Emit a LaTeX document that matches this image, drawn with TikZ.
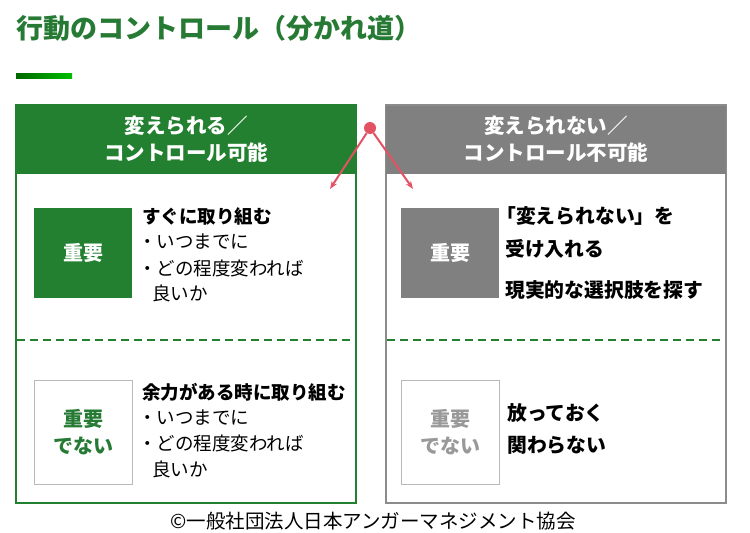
\documentclass[tikz,border=0pt]{standalone}
\usepackage{fontspec}
\setmainfont{Noto Sans CJK JP}
\usepackage{xcolor}
\usetikzlibrary{arrows.meta,positioning,shapes}
\definecolor{hgreen}{RGB}{35,128,48}
\definecolor{tgreen}{RGB}{38,122,52}
\definecolor{hgray}{RGB}{128,128,128}
\definecolor{fgray}{RGB}{140,140,140}
\definecolor{pinkred}{RGB}{226,82,98}

\begin{document}
\begin{tikzpicture}[x = 1pt, y = -1pt,
  frame/.style = {draw, line width=2pt, minimum width=340pt, minimum height=398pt, inner sep=0},
  head/.style = {minimum width=340pt, minimum height=68pt, inner sep=0, text=white, align=center, font=\fontsize{20.5}{27}\selectfont\bfseries},
  tag/.style = {minimum width=98pt, inner sep=0, align=center, font=\fontsize{20}{27}\selectfont\bfseries},
  line/.style = {anchor=west, inner sep=0, font=\fontsize{18.5}{22}\selectfont},
  bline/.style = {line, font=\fontsize{18.5}{22}\selectfont\bfseries},
  rline/.style = {line, font=\fontsize{19.8}{22}\selectfont\bfseries},
  divider/.style = {hgreen, line width=1.6pt, dash pattern=on 8pt off 5pt},
  fork/.style = {->, >={Stealth[length=8pt, width=6pt]}, pinkred, line width=2pt}]
\useasboundingbox (0,0) rectangle (750,533);

\node[anchor=west, inner sep=0, text=tgreen, font=\fontsize{27}{30}\selectfont\bfseries] (title) at (16,28) {行動のコントロール（分かれ道）};
\shade[left color=green!40!black, right color=green!75!black] (16,73) rectangle (72,78);

\node[frame, draw=hgreen] (lbox) at (186,304) {};
\node[frame, draw=fgray] (rbox) at (556,304) {};
\node[head, fill=hgreen] (lhead) at (186,139.5) {変えられる／\\コントロール可能};
\node[head, fill=hgray] (rhead) at (556,139.5) {変えられない／\\コントロール不可能};

\draw[divider] (17,340) -- (355,340);
\draw[divider] (387,340) -- (725,340);

\node[circle, fill=pinkred, minimum size=12pt, inner sep=0] (split) at (370,128) {};
\coordinate (lend) at (330,189);
\coordinate (rend) at (413,189);
\draw[fork] (split) -- (lend);
\draw[fork] (split) -- (rend);

\node[tag, fill=hgreen, text=white, minimum height=90pt] (limp) at (83,253) {重要};
\node[tag, fill=hgray, text=white, minimum height=90pt] (rimp) at (450,253) {重要};
\node[tag, draw=gray!55, line width=0.8pt, text=tgreen, minimum height=104pt] (lnot) at (83,432) {重要\\でない};
\node[tag, draw=gray!55, line width=0.8pt, text=gray!80, minimum height=104pt] (rnot) at (450,432) {重要\\でない};

% changeable, important
\node[bline] (a1) at (142,216) {すぐに取り組む};
\node[line] (a2) at (138,242) {・いつまでに};
\node[line] (a3) at (138,268) {・どの程度変われば};
\node[line] (a4) at (152,293) {良いか};

% not changeable, important
\node[rline] (b1) at (496,216) {「変えられない」を};
\node[rline] (b2) at (505,249) {受け入れる};
\node[rline] (b3) at (505,290) {現実的な選択肢を探す};

% changeable, not important
\node[bline] (c1) at (142,392) {余力がある時に取り組む};
\node[line] (c2) at (138,418) {・いつまでに};
\node[line] (c3) at (138,443) {・どの程度変われば};
\node[line] (c4) at (152,469) {良いか};

% not changeable, not important
\node[rline] (d1) at (507,413) {放っておく};
\node[rline] (d2) at (507,445) {関わらない};

\node[inner sep=0, font=\fontsize{19.5}{22}\selectfont] (copy) at (373,521) {©一般社団法人日本アンガーマネジメント協会};

\end{tikzpicture}
\end{document}
